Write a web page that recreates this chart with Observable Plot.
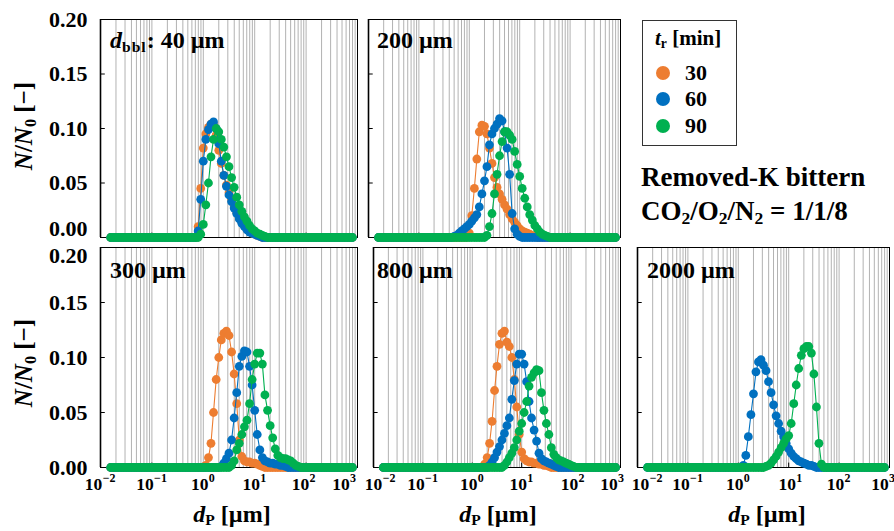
<!DOCTYPE html>
<html><head><meta charset="utf-8">
<script src="https://cdn.jsdelivr.net/npm/d3@7"></script>
<script src="https://cdn.jsdelivr.net/npm/@observablehq/plot@0.6"></script>
<style>
body{margin:0;background:#fff;}
#wrap{position:relative;width:894px;height:531px;overflow:hidden;background:#fff;font-family:"Liberation Serif","Times New Roman",serif;font-weight:bold;color:#000;}
.tx{position:absolute;white-space:nowrap;line-height:1;}
.tx sub{font-size:0.65em;vertical-align:baseline;position:relative;top:0.22em;}
</style></head><body><div id="wrap"></div>
<script>
// particle size bins [µm]
const bins = [0.0158,0.0178,0.02,0.0224,0.0251,0.0282,0.0316,0.0355,0.0398,0.0447,
0.0501,0.0562,0.0631,0.0708,0.0794,0.0891,0.1,0.112,0.126,0.141,
0.158,0.178,0.2,0.224,0.251,0.282,0.316,0.355,0.398,0.447,
0.501,0.562,0.631,0.708,0.794,0.891,1,1.12,1.26,1.41,
1.58,1.78,2,2.24,2.51,2.82,3.16,3.55,3.98,4.47,
5.01,5.62,6.31,7.08,7.94,8.91,10,11.2,12.6,14.1,
15.8,17.8,20,22.4,25.1,28.2,31.6,35.5,39.8,44.7,
50.1,56.2,63.1,70.8,79.4,89.1,100,112,126,141,
158,178,200,224,251,282,316,355,398,447,
501,562,631,708,794];

const times = [30, 60, 90];

// d_bbl = 40 µm
const d40_t30 = [0,0,0,0,0,0,0,0,0,0, 0,0,0,0,0,0,0,0,0,0, 0,0,0,0,0,0,0,0,0,0,
0,0,0,0,0.01,0.045,0.082,0.095,0.101,0.104,
0.104,0.094,0.08,0.068,0.057,0.048,0.041,0.035,0.029,0.023,
0.018,0.014,0.011,0.008,0.006,0.004,0.003,0.002,0.001,0,
0,0,0,0,0,0,0,0,0,0, 0,0,0,0,0,0,0,0,0,0, 0,0,0,0,0,0,0,0,0,0, 0,0,0,0,0];
const d40_t60 = [0,0,0,0,0,0,0,0,0,0, 0,0,0,0,0,0,0,0,0,0, 0,0,0,0,0,0,0,0,0,0,
0,0,0,0,0.006,0.035,0.07,0.09,0.099,0.104,
0.106,0.1,0.086,0.07,0.057,0.047,0.039,0.033,0.027,0.022,
0.017,0.013,0.01,0.007,0.005,0.004,0.003,0.002,0.001,0,
0,0,0,0,0,0,0,0,0,0, 0,0,0,0,0,0,0,0,0,0, 0,0,0,0,0,0,0,0,0,0, 0,0,0,0,0];
const d40_t90 = [0,0,0,0,0,0,0,0,0,0, 0,0,0,0,0,0,0,0,0,0, 0,0,0,0,0,0,0,0,0,0,
0,0,0,0,0,0.003,0.012,0.03,0.05,0.074,
0.09,0.1,0.097,0.09,0.083,0.074,0.065,0.055,0.046,0.037,
0.03,0.024,0.019,0.015,0.011,0.008,0.006,0.004,0.003,0.002,
0.001,0,0,0,0,0,0,0,0,0, 0,0,0,0,0,0,0,0,0,0, 0,0,0,0,0,0,0,0,0,0, 0,0,0,0,0];

// d_bbl = 200 µm
const d200_t30 = [0,0,0,0,0,0,0,0,0,0, 0,0,0,0,0,0,0,0,0,0, 0,0,0,0,0,0,0,0,0,0,
0,0,0,0,0,0,0.004,0.02,0.045,0.072,
0.097,0.103,0.102,0.095,0.082,0.068,0.055,0.046,0.04,0.035,
0.03,0.026,0.021,0.017,0.014,0.011,0.008,0.006,0.005,0.004,
0.003,0.002,0.001,0,0,0,0,0,0,0, 0,0,0,0,0,0,0,0,0,0, 0,0,0,0,0,0,0,0,0,0, 0,0,0,0,0];
const d200_t60 = [0,0,0,0,0,0,0,0,0,0, 0,0,0,0,0,0,0,0,0,0, 0,0,0,0,0,0,0,0,0,0,
0.001,0.002,0.004,0.006,0.008,0.01,0.012,0.015,0.018,0.021,
0.028,0.04,0.052,0.065,0.085,0.095,0.1,0.104,0.109,0.107,
0.097,0.082,0.058,0.022,0.008,0.003,0.001,0,0,0,
0,0,0,0,0,0,0,0,0,0, 0,0,0,0,0,0,0,0,0,0, 0,0,0,0,0,0,0,0,0,0, 0,0,0,0,0];
const d200_t90 = [0,0,0,0,0,0,0,0,0,0, 0,0,0,0,0,0,0,0,0,0, 0,0,0,0,0,0,0,0,0,0, 0,0,0,0,0,0,0,0,0,0,
0,0,0,0.002,0.01,0.022,0.04,0.058,0.075,0.088,
0.097,0.097,0.094,0.09,0.079,0.067,0.056,0.045,0.036,0.028,
0.021,0.016,0.011,0.008,0.005,0.003,0.002,0.001,0,0,
0,0,0,0,0,0,0,0,0,0, 0,0,0,0,0,0,0,0,0,0, 0,0,0,0,0];

// d_bbl = 300 µm
const d300_t30 = [0,0,0,0,0,0,0,0,0,0, 0,0,0,0,0,0,0,0,0,0, 0,0,0,0,0,0,0,0,0,0,
0,0,0,0,0,0,0,0.002,0.009,0.022,
0.05,0.08,0.1,0.116,0.122,0.124,0.12,0.105,0.085,0.058,
0.025,0.01,0.006,0.005,0.005,0.004,0.004,0.003,0.002,0.001,
0,0,0,0,0,0,0,0,0,0, 0,0,0,0,0,0,0,0,0,0, 0,0,0,0,0,0,0,0,0,0, 0,0,0,0,0];
const d300_t60 = [0,0,0,0,0,0,0,0,0,0, 0,0,0,0,0,0,0,0,0,0, 0,0,0,0,0,0,0,0,0,0, 0,0,0,0,0,0,0,0,0,0,
0,0,0,0.001,0.004,0.008,0.013,0.025,0.045,0.068,
0.092,0.101,0.106,0.105,0.092,0.075,0.052,0.03,0.016,0.009,
0.006,0.005,0.004,0.004,0.003,0.003,0.002,0.002,0.001,0,
0,0,0,0,0,0,0,0,0,0, 0,0,0,0,0,0,0,0,0,0, 0,0,0,0,0];
const d300_t90 = [0,0,0,0,0,0,0,0,0,0, 0,0,0,0,0,0,0,0,0,0, 0,0,0,0,0,0,0,0,0,0, 0,0,0,0,0,0,0,0,0,0,
0,0,0,0,0,0,0,0.002,0.006,0.016,
0.022,0.03,0.037,0.043,0.058,0.08,0.094,0.104,0.104,0.094,
0.066,0.052,0.038,0.027,0.017,0.011,0.009,0.008,0.008,0.007,
0.006,0.004,0.002,0.001,0,0,0,0,0,0, 0,0,0,0,0,0,0,0,0,0, 0,0,0,0,0];

// d_bbl = 800 µm
const d800_t30 = [0,0,0,0,0,0,0,0,0,0, 0,0,0,0,0,0,0,0,0,0, 0,0,0,0,0,0,0,0,0,0, 0,0,0,0,0,0,0,0,0,0,
0,0.003,0.009,0.022,0.042,0.07,0.092,0.112,0.122,0.124,
0.114,0.11,0.1,0.08,0.055,0.03,0.014,0.008,0.006,0.005,
0.005,0.004,0.004,0.003,0.003,0.002,0.002,0.001,0,0,
0,0,0,0,0,0,0,0,0,0, 0,0,0,0,0,0,0,0,0,0, 0,0,0,0,0];
const d800_t60 = [0,0,0,0,0,0,0,0,0,0, 0,0,0,0,0,0,0,0,0,0, 0,0,0,0,0,0,0,0,0,0, 0,0,0,0,0,0,0,0,0,0,
0,0,0,0.002,0.005,0.009,0.014,0.019,0.025,0.031,
0.038,0.045,0.062,0.079,0.094,0.103,0.103,0.094,0.078,0.06,
0.045,0.034,0.024,0.013,0.008,0.006,0.005,0.004,0.003,0.002,
0.001,0,0,0,0,0,0,0,0,0, 0,0,0,0,0,0,0,0,0,0, 0,0,0,0,0];
const d800_t90 = [0,0,0,0,0,0,0,0,0,0, 0,0,0,0,0,0,0,0,0,0, 0,0,0,0,0,0,0,0,0,0, 0,0,0,0,0,0,0,0,0,0,
0,0,0,0,0,0,0,0,0,0.002,
0.005,0.009,0.013,0.018,0.025,0.033,0.04,0.05,0.06,0.074,
0.082,0.086,0.089,0.088,0.068,0.052,0.04,0.03,0.018,0.012,
0.009,0.007,0.006,0.005,0.004,0.003,0.002,0.001,0,0,
0,0,0,0,0,0,0,0,0,0, 0,0,0,0,0];

// d_bbl = 2000 µm (no 30 min data)
const d2000_t60 = [0,0,0,0,0,0,0,0,0,0, 0,0,0,0,0,0,0,0,0,0, 0,0,0,0,0,0,0,0,0,0,
0,0,0,0,0,0,0,0,0.002,0.011,
0.028,0.048,0.067,0.087,0.096,0.098,0.093,0.088,0.078,0.068,
0.057,0.047,0.04,0.033,0.028,0.022,0.017,0.013,0.01,0.008,
0.006,0.005,0.004,0.003,0.002,0.002,0.001,0,0,0,
0,0,0,0,0,0,0,0,0,0, 0,0,0,0,0,0,0,0,0,0, 0,0,0,0,0];
const d2000_t90 = [0,0,0,0,0,0,0,0,0,0, 0,0,0,0,0,0,0,0,0,0, 0,0,0,0,0,0,0,0,0,0, 0,0,0,0,0,0,0,0,0,0,
0,0,0,0,0,0,0,0.001,0.002,0.004,
0.007,0.01,0.014,0.018,0.022,0.026,0.029,0.04,0.058,0.075,
0.09,0.102,0.108,0.11,0.11,0.104,0.085,0.055,0.022,0.003,
0,0,0,0,0,0,0,0,0,0, 0,0,0,0,0,0,0,0,0,0, 0,0,0,0,0];

// axis ticks / gridlines
const yTicks = [0, 0.05, 0.10, 0.15, 0.20];
const xTickVals = [0.01, 0.1, 1, 10, 100, 1000];
const xTickExps = ["\u22122", "\u22121", "0", "1", "2", "3"];
const gridX = [0.01,0.02,0.03,0.04,0.05,0.06,0.07,0.08,0.09,
0.1,0.2,0.3,0.4,0.5,0.6,0.7,0.8,0.9,
1,2,3,4,5,6,7,8,9,
10,20,30,40,50,60,70,80,90,
100,200,300,400,500,600,700,800,900,1000];

const colors = ["#ED7D31", "#0070C0", "#00B050"];

const wrap = document.getElementById("wrap");

const panels = [
  {label: '<i>d</i><sub style="letter-spacing:1px">bbl</sub>: 40 \u00b5m', series: [[30, d40_t30], [60, d40_t60], [90, d40_t90]],
   fx: 100, fy: 19, fw: 257, fh: 218, left: true, bottom: false, lx: 110, lb: 48.5},
  {label: '200 \u00b5m', series: [[30, d200_t30], [60, d200_t60], [90, d200_t90]],
   fx: 368, fy: 19, fw: 252, fh: 218, left: false, bottom: false, lx: 377, lb: 48.5},
  {label: '300 \u00b5m', series: [[30, d300_t30], [60, d300_t60], [90, d300_t90]],
   fx: 100, fy: 247, fw: 257, fh: 220, left: true, bottom: true, lx: 110, lb: 278, xShift: [0,0,0,0,-2,-13]},
  {label: '800 \u00b5m', series: [[30, d800_t30], [60, d800_t60], [90, d800_t90]],
   fx: 373, fy: 247, fw: 247, fh: 220, left: false, bottom: true, lx: 377, lb: 278, xShift: [7,0,0,0,2,-8]},
  {label: '2000 \u00b5m', series: [[60, d2000_t60], [90, d2000_t90]],
   fx: 637, fy: 247, fw: 252, fh: 220, left: false, bottom: true, lx: 647, lb: 278, xShift: [10,0,0,2,0,-6]}
];

function addText(html, left, baseline, size, center) {
  const d = document.createElement("div");
  d.className = "tx";
  d.style.left = left + "px";
  d.style.top = (baseline - 0.8375 * size) + "px";
  d.style.fontSize = size + "px";
  if (center) d.style.transform = "translateX(-50%)";
  d.innerHTML = html;
  wrap.appendChild(d);
  return d;
}

panels.forEach((p, pi) => {
  const ml = p.left ? 72 : 8, mr = 12, mt = 14, mb = p.bottom ? 40 : 10;
  const marks = [
    Plot.ruleX(gridX, {stroke: "#b2b2b2", strokeWidth: 1}),
    Plot.ruleY(yTicks.slice(1, 4), {y: d => d, x1: 0.01, x2: 0.0124, stroke: "#000", strokeWidth: 1}),
    Plot.ruleX(xTickVals.slice(1, 5), {x: d => d, y1: 0, y2: 0.004, stroke: "#000", strokeWidth: 1}),
    Plot.frame({stroke: "#000", strokeWidth: 1}),
    Plot.ruleX([0.01], {stroke: "#000", strokeWidth: 1.6})
  ];
  for (const [t, vals] of p.series) {
    const rows = bins.map((x, i) => ({x, y: vals[i], t}));
    marks.push(Plot.line(rows, {x: "x", y: "y", stroke: "t", strokeWidth: 1.1}));
    marks.push(Plot.dot(rows, {x: "x", y: "y", fill: "t", r: 4.4}));
  }
  if (p.left) {
    const top = !p.bottom;
    const main = top ? yTicks.slice(1) : yTicks.slice(0, 4);
    const edge = top ? [yTicks[0]] : [yTicks[4]];
    marks.push(Plot.text(main, {frameAnchor: "left", y: d => d, text: d => d.toFixed(2), textAnchor: "end", dx: -13, fontSize: 22, fontWeight: "bold", fill: "#000"}));
    marks.push(Plot.text(edge, {frameAnchor: "left", y: d => d, text: d => d.toFixed(2), textAnchor: "end", dx: -13, dy: top ? -9 : 8, fontSize: 22, fontWeight: "bold", fill: "#000"}));
  }
  if (p.bottom) {
    xTickVals.forEach((v, k) => {
      const neg = xTickExps[k].length > 1;
      const s = p.xShift[k];
      marks.push(Plot.text([v], {x: d => d, frameAnchor: "bottom", text: () => "10", dx: (neg ? -7 : -3.5) + s, dy: 22, fontSize: 17.5, fontWeight: "bold", fill: "#000"}));
      marks.push(Plot.text([v], {x: d => d, frameAnchor: "bottom", text: () => xTickExps[k], textAnchor: "start", dx: (neg ? 2.2 : 5.5) + s, dy: 14, fontSize: 12, fontWeight: "bold", fill: "#000"}));
    });
  }
  const svg = Plot.plot({
    width: p.fw + ml + mr, height: p.fh + mt + mb,
    marginLeft: ml, marginRight: mr, marginTop: mt, marginBottom: mb,
    x: {type: "log", domain: [0.01, 1000], axis: null},
    y: {domain: [0, 0.2], axis: null},
    color: {type: "ordinal", domain: times, range: colors},
    style: {background: "transparent", overflow: "visible", fontFamily: "'Liberation Serif', 'Times New Roman', serif"},
    marks
  });
  svg.style.position = "absolute";
  svg.style.left = (p.fx - ml) + "px";
  svg.style.top = (p.fy - mt) + "px";
  wrap.appendChild(svg);
  addText(p.label, p.lx, p.lb, 24);
});

// y axis titles
[126, 363].forEach(cy => {
  const d = document.createElement("div");
  d.className = "tx";
  d.style.fontSize = "25px";
  d.style.left = "23px";
  d.style.top = cy + "px";
  d.style.transform = "translate(-50%,-50%) rotate(-90deg)";
  d.innerHTML = '<i>N</i>/<i>N</i><sub>0</sub> [\u2212]';
  wrap.appendChild(d);
});

// x axis titles
[232, 498, 767].forEach(cx => addText('<i>d</i><sub>P</sub> [\u00b5m]', cx, 522, 24, true));

// legend
const box = document.createElement("div");
box.style.cssText = "position:absolute;left:642px;top:20px;width:93px;height:124px;border:1.3px solid #333;background:#fff;";
wrap.appendChild(box);
addText('<i>t</i><sub>r</sub> [min]', 655, 46, 21);
const legendY = [73, 99, 126];
times.forEach((t, k) => {
  const c = document.createElement("div");
  c.style.cssText = `position:absolute;left:${663 - 7}px;top:${legendY[k] - 7}px;width:14px;height:14px;border-radius:50%;background:${colors[k]};`;
  wrap.appendChild(c);
  addText(String(t), 685, legendY[k] + 7.5, 22);
});

// annotation
addText('Removed-K bittern', 641, 187, 27);
addText('CO<sub>2</sub>/O<sub>2</sub>/N<sub>2</sub> = 1/1/8', 641, 221, 27);
</script></body></html>
